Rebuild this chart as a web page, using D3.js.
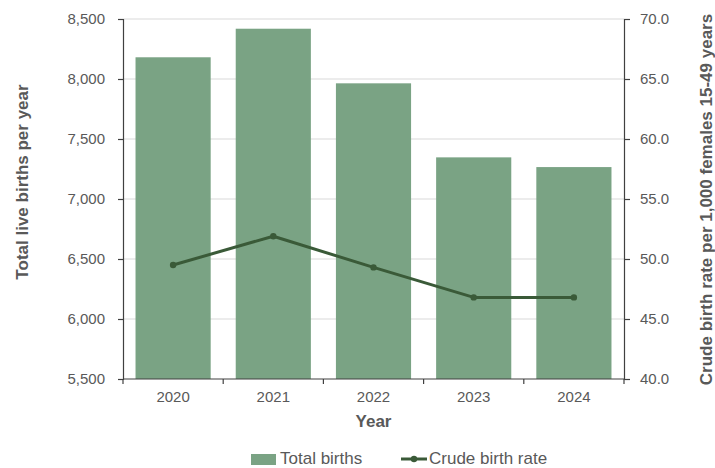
<!DOCTYPE html>
<html><head><meta charset="utf-8">
<script src="https://cdn.jsdelivr.net/npm/d3@7"></script>
<style>
body{margin:0;background:#fff;}
svg{display:block;font-family:"Liberation Sans",Arial,sans-serif;}
</style></head>
<body><svg id="c" width="715" height="468"></svg>
<script>
const years = ["2020","2021","2022","2023","2024"];
const totalBirths = [8181, 8419, 7964, 7347, 7266];
const crudeRate = [49.5, 51.9, 49.3, 46.8, 46.8];
const leftTicks = [5500, 6000, 6500, 7000, 7500, 8000, 8500];
const rightTicks = [40, 45, 50, 55, 60, 65, 70];

const W = 715, H = 468;
const m = {l:123, r:91, t:19, b:89};
const svg = d3.select("#c");
const x = d3.scaleBand().domain(years).range([m.l, W - m.r]).paddingInner(0.25).paddingOuter(0.125);
const xb = d3.scaleLinear().domain([0, years.length]).range([m.l, W - m.r]);
const y = d3.scaleLinear().domain([5500, 8500]).range([H - m.b, m.t]);
const y2 = d3.scaleLinear().domain([40, 70]).range([H - m.b, m.t]);
const txt = "#595959", axc = "#404040";
const barC = "#7aa384", lineC = "#3a5a38";

// gridlines
svg.append("g").selectAll("line").data(leftTicks.slice(1)).join("line")
  .attr("x1", m.l).attr("x2", W - m.r).attr("y1", d => y(d)).attr("y2", d => y(d))
  .attr("stroke", "#d9d9d9").attr("stroke-width", 1);

// bars
svg.append("g").selectAll("rect").data(years).join("rect")
  .attr("x", d => x(d)).attr("width", x.bandwidth())
  .attr("y", (d, i) => y(totalBirths[i])).attr("height", (d, i) => y(5500) - y(totalBirths[i]))
  .attr("fill", barC);

// left axis
const gl = svg.append("g").attr("transform", `translate(${m.l},0)`)
  .call(d3.axisLeft(y).tickValues(leftTicks).tickSize(5).tickPadding(13).tickFormat(d3.format(",")));
gl.select(".domain").attr("stroke", axc).attr("stroke-width", 1.2);
gl.selectAll(".tick line").attr("stroke", axc).attr("stroke-width", 1.2);
gl.selectAll("text").attr("fill", txt).style("font-size", "15px").style("font-family", "Liberation Sans, Arial, sans-serif");

// right axis
const gr = svg.append("g").attr("transform", `translate(${W - m.r},0)`)
  .call(d3.axisRight(y2).tickValues(rightTicks).tickSize(6).tickPadding(10).tickFormat(d3.format(".1f")));
gr.select(".domain").attr("stroke", axc).attr("stroke-width", 1.2);
gr.selectAll(".tick line").attr("stroke", axc).attr("stroke-width", 1.2);
gr.selectAll("text").attr("fill", txt).style("font-size", "15px").style("font-family", "Liberation Sans, Arial, sans-serif");

// x axis
const gx = svg.append("g").attr("transform", `translate(0,${H - m.b})`);
gx.append("line").attr("x1", m.l).attr("x2", W - m.r).attr("stroke", axc).attr("stroke-width", 1.2);
gx.selectAll("line.t").data(d3.range(years.length + 1)).join("line").attr("class", "t")
  .attr("x1", d => xb(d)).attr("x2", d => xb(d)).attr("y1", 0).attr("y2", 5)
  .attr("stroke", axc).attr("stroke-width", 1.2);
gx.selectAll("text").data(years).join("text")
  .attr("x", d => x(d) + x.bandwidth() / 2).attr("y", 23)
  .attr("text-anchor", "middle").attr("fill", txt).style("font-size", "15px").text(d => d);

// line
const pts = years.map((d, i) => [x(d) + x.bandwidth() / 2, y2(crudeRate[i])]);
svg.append("path").attr("d", d3.line()(pts)).attr("fill", "none")
  .attr("stroke", lineC).attr("stroke-width", 3).attr("stroke-linejoin", "round");
svg.append("g").selectAll("circle").data(pts).join("circle")
  .attr("cx", d => d[0]).attr("cy", d => d[1]).attr("r", 3.2).attr("fill", lineC);

// axis titles
svg.append("text").attr("x", (m.l + W - m.r) / 2).attr("y", 427).attr("text-anchor", "middle")
  .attr("fill", txt).style("font-size", "17px").style("font-weight", "bold").text("Year");
svg.append("text").attr("transform", "translate(28,182) rotate(-90)").attr("text-anchor", "middle")
  .attr("fill", txt).style("font-size", "17px").style("font-weight", "bold").text("Total live births per year");
svg.append("text").attr("transform", "translate(712,199.5) rotate(-90)").attr("text-anchor", "middle")
  .attr("fill", txt).style("font-size", "17px").style("font-weight", "bold").text("Crude birth rate per 1,000 females 15-49 years");

// legend
const lg = svg.append("g");
lg.append("rect").attr("x", 251).attr("y", 454).attr("width", 25).attr("height", 11).attr("fill", barC);
lg.append("text").attr("x", 280).attr("y", 464).attr("fill", txt).style("font-size", "17px").text("Total births");
lg.append("line").attr("x1", 401).attr("x2", 427).attr("y1", 459).attr("y2", 459).attr("stroke", lineC).attr("stroke-width", 3);
lg.append("circle").attr("cx", 414).attr("cy", 459).attr("r", 3.2).attr("fill", lineC);
lg.append("text").attr("x", 429).attr("y", 464).attr("fill", txt).style("font-size", "17px").text("Crude birth rate");
</script></body></html>
